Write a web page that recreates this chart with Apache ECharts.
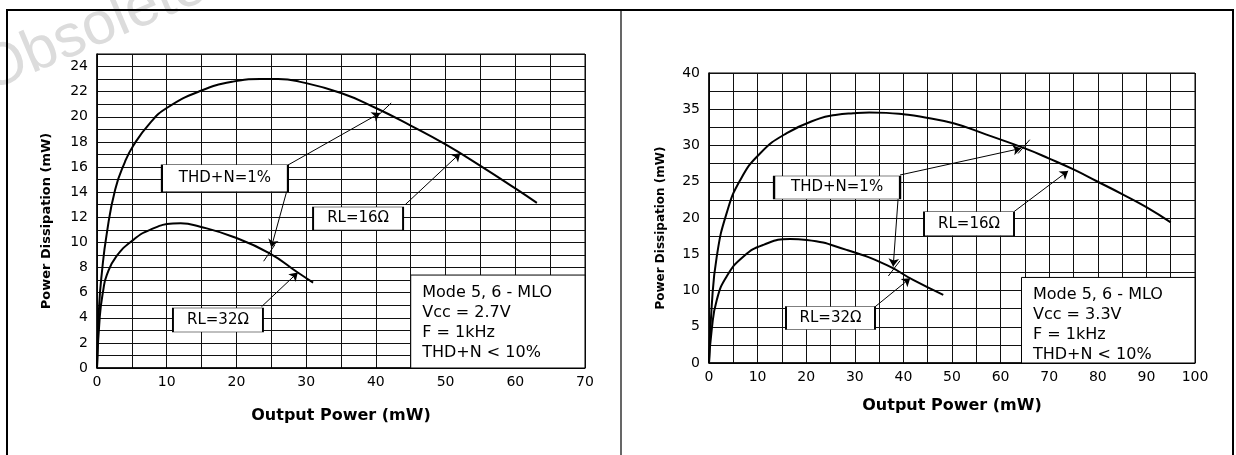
<!DOCTYPE html>
<html><head><meta charset="utf-8">
<script src="https://cdn.jsdelivr.net/npm/echarts@6/dist/echarts.min.js"></script>
<style>html,body{margin:0;padding:0;background:#fff}#c{width:1236px;height:455px}</style>
</head><body><div id="c"></div>
<script>
// ---- tick labels ----
const xLabelsLeft = [0,10,20,30,40,50,60,70];
const yLabelsLeft = [0,2,4,6,8,10,12,14,16,18,20,22,24];
const xLabelsRight = [0,10,20,30,40,50,60,70,80,90,100];
const yLabelsRight = [0,5,10,15,20,25,30,35,40];

// ---- Vcc = 2.7V (left) : [output power mW, dissipation mW] ----
const rl16_27 = [[0,0],[0.3,4.9],[0.7,7.6],[1.4,10.7],[2.6,14.2],[4,16.4],[5.2,17.7],[7.6,19.5],[10,20.7],[14.8,22.05],[19.5,22.8],[23.4,23.0],[26,23.0],[29,22.8],[35,21.9],[40,20.7],[45,19.3],[50,17.8],[55,16.1],[60,14.3],[63.1,13.15]];
const rl32_27 = [[0,0],[0.4,4.1],[0.9,6.2],[1.4,7.4],[2.8,8.9],[5.2,10.2],[7.6,11.0],[10.9,11.5],[12,11.52],[14.8,11.25],[19.5,10.45],[24.7,9.15],[28.8,7.6],[31,6.8]];

// ---- Vcc = 3.3V (right) ----
const rl16_33 = [[0,0],[0.55,7.8],[1.6,14.7],[3.6,20.6],[6.4,25.2],[10.5,28.9],[16,31.7],[22.8,33.75],[26,34.2],[29.7,34.45],[33,34.55],[36.5,34.5],[40,34.3],[43.4,34.0],[50.3,33.06],[57.1,31.5],[65,29.6],[70,28.2],[75,26.7],[80,25.0],[85,23.3],[90,21.5],[95,19.4]];
const rl32_33 = [[0,0],[0.55,4.55],[1.6,8.7],[3.6,11.9],[7.1,14.7],[11.2,16.3],[16.7,17.1],[20.1,16.97],[28.3,15.6],[36.6,13.5],[42,11.45],[48.2,9.4]];

// ---- texts ----
const lblTHD = 'THD+N=1%';
const lbl16 = 'RL=16\u03A9';
const lbl32 = 'RL=32\u03A9';
const infoLeft = ['Mode 5, 6 - MLO','Vcc = 2.7V','F = 1kHz','THD+N < 10%'];
const infoRight = ['Mode 5, 6 - MLO','Vcc = 3.3V','F = 1kHz','THD+N < 10%'];
const xName = 'Output Power (mW)';
const yName = 'Power Dissipation (mW)';
const watermark = 'Obsolete Product(s)';

const FONT = 'DejaVu Sans';
const BLACK = '#000';

function box(text, cx, cy, w, h){
  return {coord:[cx,cy], symbol:'rect', symbolSize:[w,h], value:0,
    itemStyle:{color:'#fff', borderColor:BLACK, borderWidth:1},
    label:{show:true, position:'inside', formatter:text, color:BLACK, fontSize:15, fontFamily:FONT}};
}
function arrow(a,b){ return [{coord:a},{coord:b}]; }
function tick(a,b){ return [{coord:a, symbol:'none'},{coord:b, symbol:'none'}]; }
function markLine(items){
  return {silent:true, animation:false, symbol:['none','arrow'], symbolSize:8,
    lineStyle:{color:BLACK, width:1, type:'solid'}, label:{show:false}, emphasis:{disabled:true}, data:items};
}
function info(lines, x0, y0, x1, y1){
  return {silent:true, itemStyle:{color:'#fff', borderColor:BLACK, borderWidth:1},
    label:{show:true, position:'insideTopLeft', distance:0, padding:[8,0,0,12], formatter:lines.join('\n'),
      color:BLACK, fontSize:16, lineHeight:20, fontFamily:FONT},
    data:[[{coord:[x0,y0]},{coord:[x1,y1]}]]};
}
function xAxis(grid, max, labels, gap){
  return {type:'value', gridIndex:grid, min:0, max:max, interval:5,
    axisLine:{show:true, lineStyle:{color:BLACK, width:1.5}}, axisTick:{show:false},
    splitLine:{show:true, lineStyle:{color:'#111', width:1}},
    axisLabel:{color:BLACK, fontSize:14, fontFamily:FONT, margin:7, showMaxLabel:true, showMinLabel:true,
      formatter:v=>labels.includes(v)?String(v):''},
    name:xName, nameLocation:'middle', nameGap:gap,
    nameTextStyle:{color:BLACK, fontSize:16, fontWeight:'bold', fontFamily:FONT}};
}
function yAxis(grid, max, step, labels, gap, nsize){
  return {type:'value', gridIndex:grid, min:0, max:max, interval:step,
    axisLine:{show:true, lineStyle:{color:BLACK, width:1.5}}, axisTick:{show:false},
    splitLine:{show:true, lineStyle:{color:'#111', width:1}},
    axisLabel:{color:BLACK, fontSize:14, fontFamily:FONT, margin:9, showMaxLabel:true, showMinLabel:true,
      formatter:v=>labels.includes(v)?String(v):''},
    name:yName, nameLocation:'middle', nameGap:gap, nameRotate:90,
    nameTextStyle:{color:BLACK, fontSize:nsize, fontWeight:'bold', fontFamily:FONT, padding:[0,20,0,0]}};
}
const curveStyle = {color:BLACK, width:2};
function curve(data, xi, extra){
  return Object.assign({type:'line', xAxisIndex:xi, yAxisIndex:xi, data:data, showSymbol:false, smooth:0.5,
    lineStyle:curveStyle, emphasis:{disabled:true}}, extra);
}

const option = {
  animation:false,
  backgroundColor:'#fff',
  grid:[
    {left:97, top:54, width:488, height:314, show:true, borderColor:BLACK, borderWidth:1, backgroundColor:'transparent'},
    {left:709, top:73, width:486, height:290, show:true, borderColor:BLACK, borderWidth:1, backgroundColor:'transparent'}
  ],
  xAxis:[ xAxis(0,70,xLabelsLeft,40), xAxis(1,100,xLabelsRight,35) ],
  yAxis:[ yAxis(0,25,1,yLabelsLeft,44,13), yAxis(1,40,2.5,yLabelsRight,42,12) ],
  graphic:[
    {type:'text', x:-6, y:104, rotation:0.4, z:-10, silent:true,
      style:{text:watermark, fontSize:60, fontFamily:'Liberation Sans', fill:'#dcdcdc', textVerticalAlign:'bottom', textAlign:'left'}},
    {type:'line', shape:{x1:6,y1:10,x2:1234,y2:10}, style:{stroke:BLACK, lineWidth:2}, z:100},
    {type:'line', shape:{x1:7,y1:10,x2:7,y2:455}, style:{stroke:BLACK, lineWidth:2}, z:100},
    {type:'line', shape:{x1:1233,y1:10,x2:1233,y2:455}, style:{stroke:BLACK, lineWidth:2}, z:100},
    {type:'line', shape:{x1:621,y1:10,x2:621,y2:455}, style:{stroke:BLACK, lineWidth:1.2}, z:100}
  ],
  series:[
    curve(rl16_27, 0, {
      markPoint:{silent:true, data:[box(lblTHD,18.35,15.1,126,27), box(lbl16,37.45,11.9,90,23)]},
      markLine:markLine([ arrow([27.4,16.16],[40.6,20.3]), arrow([44.2,13.0],[52.1,17.1]),
        tick([40.5,20.2],[42.2,21.1]) ]),
      markArea:info(infoLeft,45,7.4,70,0)}),
    curve(rl32_27, 0, {
      markPoint:{silent:true, data:[box(lbl32,17.35,3.83,90,24)]},
      markLine:markLine([ arrow([27.2,14.04],[25.0,9.6]), arrow([23.6,4.88],[28.8,7.6]),
        tick([23.9,8.5],[25.5,9.8]) ])}),
    curve(rl16_33, 1, {
      markPoint:{silent:true, data:[box(lblTHD,26.35,24.2,126,23), box(lbl16,53.5,19.2,90,24)]},
      markLine:markLine([ arrow([39.3,25.93],[64.2,29.6]), arrow([62.8,20.9],[73.9,26.5]),
        tick([63.6,28.9],[66.0,30.8]) ]),
      markArea:info(infoRight,64.3,11.8,100,0)}),
    curve(rl32_33, 1, {
      markPoint:{silent:true, data:[box(lbl32,25,6.2,89,23)]},
      markLine:markLine([ arrow([38.9,22.6],[37.9,13.3]), arrow([34.2,7.77],[41.4,11.7]),
        tick([36.9,12.0],[39.3,14.1]) ])})
  ]
};
const chart = echarts.init(document.getElementById('c'));
chart.setOption(option);
</script></body></html>
